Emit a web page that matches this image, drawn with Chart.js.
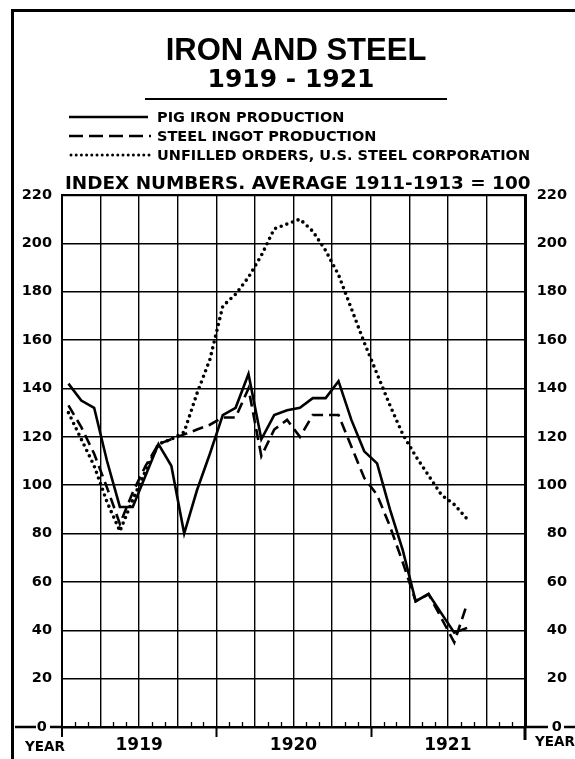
<!DOCTYPE html>
<html>
<head>
<meta charset="utf-8">
<script src="https://cdn.jsdelivr.net/npm/chart.js@4.4.1/dist/chart.umd.min.js"></script>
<style>
    html, body { margin: 0; padding: 0; background: #fff; }
    #wrap { position: relative; width: 575px; height: 759px; overflow: hidden; color: #000; font-family: "DejaVu Sans", sans-serif; }
    #frame { position: absolute; left: 11px; top: 9px; width: 600px; height: 800px; border-left: 3px solid #000; border-top: 3px solid #000; }
    #chart { position: absolute; left: 0; top: 0; }
    #deco { position: absolute; left: 0; top: 0; }
    .t { position: absolute; white-space: nowrap; line-height: 1; font-weight: bold; }
    .c { transform: translateX(-50%); }
</style>
</head>
<body>
<div id="wrap">
    <div id="frame"></div>
    <canvas id="chart" width="575" height="759"></canvas>
    <svg id="deco" width="575" height="759">
        <line x1="145" y1="99" x2="447" y2="99" stroke="#000" stroke-width="2"/>
        <line x1="69" y1="117" x2="148" y2="117" stroke="#000" stroke-width="2.6"/>
        <line x1="69" y1="136" x2="151" y2="136" stroke="#000" stroke-width="2.6" stroke-dasharray="14 6"/>
        <line x1="71" y1="155" x2="153" y2="155" stroke="#000" stroke-width="3" stroke-linecap="round" stroke-dasharray="0 5.2"/>
    </svg>
    <div class="t c" style="left:296px; top:34px; font-family:'Liberation Sans',sans-serif; font-size:31px;">IRON AND STEEL</div>
    <div class="t c" style="left:291px; top:66px; font-size:25px;">1919 - 1921</div>
    <div class="t" style="left:157px; top:110px; font-size:14.5px;">PIG IRON PRODUCTION</div>
    <div class="t" style="left:157px; top:129px; font-size:14.5px;">STEEL INGOT PRODUCTION</div>
    <div class="t" style="left:157px; top:148px; font-size:14.5px;">UNFILLED ORDERS, U.S. STEEL CORPORATION</div>
    <div class="t" style="left:65px; top:174px; font-size:18.4px;">INDEX NUMBERS. AVERAGE 1911-1913 = 100</div>
    <div class="t" style="left:25px; top:740px; font-size:13.5px;">YEAR</div>
    <div class="t" style="left:535px; top:735px; font-size:13.5px;">YEAR</div>
</div>

<script>
// Mesi dal gennaio 1919 all'agosto 1921
const monthLabels = [
    '1919-01', '1919-02', '1919-03', '1919-04', '1919-05', '1919-06',
    '1919-07', '1919-08', '1919-09', '1919-10', '1919-11', '1919-12',
    '1920-01', '1920-02', '1920-03', '1920-04', '1920-05', '1920-06',
    '1920-07', '1920-08', '1920-09', '1920-10', '1920-11', '1920-12',
    '1921-01', '1921-02', '1921-03', '1921-04', '1921-05', '1921-06',
    '1921-07', '1921-08'
];

const pigIron = [
    142, 135, 132, 110, 91, 91, 104, 117, 108, 80, 98, 113,
    129, 132, 146, 119, 129, 131, 132, 136, 136, 143, 127, 114,
    109, 90, 73, 52, 55, 47, 39, 41
];

const steelIngot = [
    133, 124, 113, 99, 84, 97, 108, 117, 119, 121, 123, 125,
    128, 128, 140, 112, 123, 127, 120, 129, 129, 129, 116, 103,
    96, 83, 68, 52, 55, 45, 35, 51
];

const unfilledOrders = [
    130, 119, 108, 93, 81, 94, 106, 117, 119, 122, 138, 152,
    174, 179, 186, 195, 206, 208, 210, 205, 197, 187, 173, 159,
    146, 133, 121, 112, 104, 96, 92, 86
];

const yearLabels = ['1919', '1920', '1921'];
const yMax = 220;
const yStep = 20;

const toPoints = values => values.map((v, i) => ({ x: i + 0.5, y: v }));

const FONT = '"DejaVu Sans", sans-serif';

// Tacche mensili, estensione della linea dello zero
const extrasPlugin = {
    id: 'extras',
    afterDraw(chart) {
        const ctx = chart.ctx;
        const xs = chart.scales.x;
        const area = chart.chartArea;
        const y0 = area.bottom;
        ctx.save();
        ctx.strokeStyle = '#000';
        for (let m = 1; m < 36; m++) {
            const px = Math.round(xs.getPixelForValue(m)) + 0.5;
            ctx.beginPath();
            if (m % 12 === 0) {
                ctx.lineWidth = 2;
                ctx.moveTo(px, y0);
                ctx.lineTo(px, y0 + 10);
            } else if (m % 3 !== 0) {
                ctx.lineWidth = 1.3;
                ctx.moveTo(px, y0);
                ctx.lineTo(px, y0 - 5);
            }
            ctx.stroke();
        }
        ctx.lineWidth = 2;
        ctx.beginPath();
        ctx.moveTo(area.left, y0);
        ctx.lineTo(area.left, y0 + 10);
        ctx.stroke();
        ctx.lineWidth = 3;
        ctx.beginPath();
        ctx.moveTo(area.right, y0);
        ctx.lineTo(area.right, y0 + 13);
        ctx.stroke();

        // la linea dello zero continua oltre le etichette
        ctx.lineWidth = 2.5;
        ctx.beginPath();
        ctx.moveTo(15, y0);
        ctx.lineTo(36, y0);
        ctx.moveTo(50, y0);
        ctx.lineTo(area.left, y0);
        ctx.moveTo(area.right, y0);
        ctx.lineTo(548, y0);
        ctx.moveTo(564, y0);
        ctx.lineTo(575, y0);
        ctx.stroke();
        ctx.restore();
    }
};

const tickFont = { family: FONT, size: 14.5, weight: 'bold' };
const yLabel = v => (v === 0 ? '0 ' : String(v));

new Chart(document.getElementById('chart'), {
    type: 'line',
    data: {
        datasets: [
            {
                label: 'PIG IRON PRODUCTION',
                data: toPoints(pigIron),
                borderColor: '#000',
                borderWidth: 2.6,
                pointRadius: 0,
                tension: 0
            },
            {
                label: 'STEEL INGOT PRODUCTION',
                data: toPoints(steelIngot),
                borderColor: '#000',
                borderWidth: 2.6,
                borderDash: [11, 6],
                pointRadius: 0,
                tension: 0
            },
            {
                label: 'UNFILLED ORDERS, U.S. STEEL CORPORATION',
                data: toPoints(unfilledOrders),
                borderColor: '#000',
                borderWidth: 3.6,
                borderDash: [0, 6],
                borderCapStyle: 'round',
                pointRadius: 0,
                tension: 0
            }
        ]
    },
    options: {
        responsive: false,
        animation: false,
        layout: { padding: { top: 195, left: 0, right: 8, bottom: 0 } },
        plugins: {
            legend: { display: false },
            tooltip: { enabled: false },
            title: { display: false }
        },
        scales: {
            x: {
                type: 'linear',
                min: 0,
                max: 36,
                afterBuildTicks: axis => {
                    axis.ticks = [];
                    for (let m = 0; m <= 36; m += 3) axis.ticks.push({ value: m });
                },
                afterFit: axis => { axis.height = 32; },
                ticks: {
                    autoSkip: false,
                    maxRotation: 0,
                    padding: 8,
                    color: '#000',
                    font: { family: FONT, size: 17, weight: 'bold' },
                    callback: v => (v % 12 === 6 ? yearLabels[(v - 6) / 12] : '')
                },
                grid: { color: '#000', lineWidth: 1.4, drawTicks: false },
                border: { display: true, color: '#000', width: 2.5 }
            },
            y: {
                position: 'left',
                min: 0,
                max: yMax,
                afterFit: axis => { axis.width = 62; },
                ticks: { stepSize: yStep, padding: 10, color: '#000', font: tickFont, callback: yLabel },
                grid: {
                    color: '#000',
                    lineWidth: c => (c.tick && c.tick.value === yMax ? 2.2 : 1.4),
                    drawTicks: false
                },
                border: { display: true, color: '#000', width: 2 }
            },
            y2: {
                position: 'right',
                min: 0,
                max: yMax,
                afterFit: axis => { axis.width = 42; },
                ticks: { stepSize: yStep, padding: 12, crossAlign: 'far', color: '#000', font: tickFont, callback: yLabel },
                grid: { display: false, drawTicks: false },
                border: { display: true, color: '#000', width: 3 }
            }
        }
    },
    plugins: [extrasPlugin]
});
</script>
</body>
</html>
